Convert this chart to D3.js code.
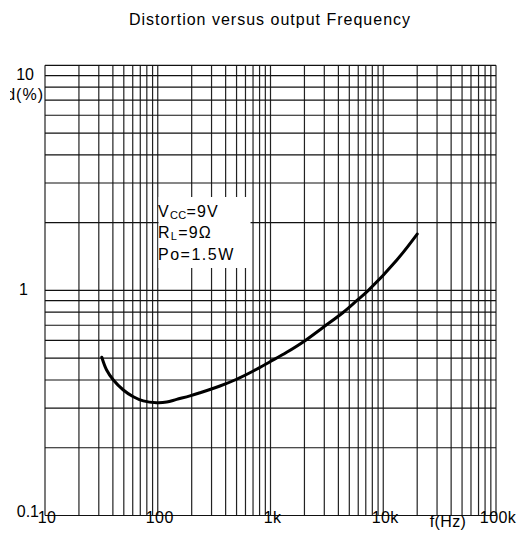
<!DOCTYPE html>
<html>
<head>
<meta charset="utf-8">
<script src="https://cdn.jsdelivr.net/npm/d3@7"></script>
<style>
  body { margin: 0; background: #fff; }
  text { font-family: "Liberation Sans", Arial, sans-serif; fill: #000; }
</style>
</head>
<body>
<div id="chart"></div>
<script>
// curve (Hz, %)
let freq = [31.9, 35.2, 40.4, 49.5, 60.7, 74.4, 97.9, 120, 147, 193, 237, 356, 501, 704, 990, 1392, 2023, 2938, 4430, 5810, 7380, 13200, 20000];
let dist = [0.505, 0.443, 0.40, 0.361, 0.337, 0.323, 0.317, 0.319, 0.328, 0.340, 0.351, 0.376, 0.403, 0.4385, 0.482, 0.531, 0.598, 0.686, 0.80, 0.90, 1.0, 1.365, 1.78];

let xTicks = [10, 100, 1000, 10000, 100000];
let xLabels = ['10', '100', '1k', '10k', '100k'];
let yTicks = [0.1, 1, 10];
let yLabels = ['0.1', '1', '10'];

let margin = {top: 65.3, right: 28, bottom: 26.5, left: 45},
width = 524 - margin.left - margin.right,
height = 542 - margin.top - margin.bottom;

let svg = d3.select('#chart').
append('svg').
attr('width', 524).
attr('height', 542);

let g = svg.append('g').
attr('transform', 'translate(' + margin.left + ',' + margin.top + ')');

let x = d3.scaleLog().domain([10, 100000]).range([0, width]);
let y = d3.scaleLog().domain([0.1, 10]).range([height, 0]);

// title
svg.append('text').
attr('x', 270).
attr('y', 25).
attr('text-anchor', 'middle').
style('font-size', '16px').
style('letter-spacing', '1px').
text('Distortion versus output Frequency');

// grid: every 1..9 of each decade
let vLines = [];
for (let dec = 10; dec < 100000; dec *= 10) {
  for (let m = 1; m < 10; m++) vLines.push(dec * m);
}
vLines.push(100000);

let hLines = [];
for (let dec = 0.1; dec < 10; dec *= 10) {
  for (let m = 1; m < 10; m++) hLines.push(+(dec * m).toFixed(2));
}
hLines.push(10);

g.selectAll('.vgrid').
data(vLines).
enter().
append('line').
attr('class', 'vgrid').
attr('x1', d => x(d)).
attr('x2', d => x(d)).
attr('y1', 0).
attr('y2', height).
attr('stroke', '#222').
attr('stroke-width', 1.2);

g.selectAll('.hgrid').
data(hLines).
enter().
append('line').
attr('class', 'hgrid').
attr('x1', 0).
attr('x2', width).
attr('y1', d => y(d)).
attr('y2', d => y(d)).
attr('stroke', '#111').
attr('stroke-width', 1.2);

// condition box (covers grid)
let boxX = x(100) + 0.8;
g.append('rect').
attr('x', boxX).
attr('y', 197 - margin.top).
attr('width', 92).
attr('height', 71).
attr('fill', '#fff');

let box = g.append('g').
attr('transform', 'translate(' + (boxX - 0.5) + ',' + (216.7 - margin.top) + ')');

let lineGap = 21.7;
let t0 = box.append('text').attr('y', 0).style('font-size', '16px').style('letter-spacing', '1.2px');
t0.append('tspan').text('V');
t0.append('tspan').attr('dy', 2).style('font-size', '11px').style('letter-spacing', '0.3px').text('CC');
t0.append('tspan').attr('dy', -2).text('=9V');

let t1 = box.append('text').attr('y', lineGap).style('font-size', '16px').style('letter-spacing', '1.2px');
t1.append('tspan').text('R');
t1.append('tspan').attr('dy', 2).style('font-size', '11px').text('L');
t1.append('tspan').attr('dy', -2).text('=9Ω');

box.append('text').
attr('y', lineGap * 2).
style('font-size', '16px').
style('letter-spacing', '1.5px').
text('Po=1.5W');

// curve
let pts = freq.map((f, i) => [f, dist[i]]);
let line = d3.line().
x(d => x(d[0])).
y(d => y(d[1])).
curve(d3.curveCatmullRom.alpha(0.5));

g.append('path').
datum(pts).
attr('d', line).
attr('fill', 'none').
attr('stroke', '#000').
attr('stroke-width', 3).
attr('stroke-linecap', 'round');

// x tick labels
g.selectAll('.xlab').
data(xTicks).
enter().
append('text').
attr('class', 'xlab').
attr('x', d => x(d) + 2).
attr('y', height + 7.5).
attr('text-anchor', 'middle').
style('font-size', '16px').
style('letter-spacing', '0.4px').
text((d, i) => xLabels[i]);

svg.append('text').
attr('x', 448).
attr('y', 527).
attr('text-anchor', 'middle').
style('font-size', '16px').
style('letter-spacing', '0.4px').
text('f(Hz)');

// y tick labels (each sits a bit differently under its line)
let yNudge = {'10': [34, 15], '1': [28, 4.5], '0.1': [39, 1.5]};
svg.selectAll('.ylab').
data(yTicks).
enter().
append('text').
attr('class', 'ylab').
attr('x', (d, i) => yNudge[yLabels[i]][0]).
attr('y', (d, i) => margin.top + y(d) + yNudge[yLabels[i]][1]).
attr('text-anchor', 'end').
style('font-size', '16px').
text((d, i) => yLabels[i]);

// axis title, left edge cut off like the original
svg.append('clipPath').
attr('id', 'cutLeft').
append('rect').
attr('x', 10).
attr('y', 0).
attr('width', 100).
attr('height', 200);

svg.append('text').
attr('x', 44).
attr('y', 100).
attr('text-anchor', 'end').
attr('clip-path', 'url(#cutLeft)').
style('font-size', '16px').
style('letter-spacing', '1px').
text('d(%)');
</script>
</body>
</html>
